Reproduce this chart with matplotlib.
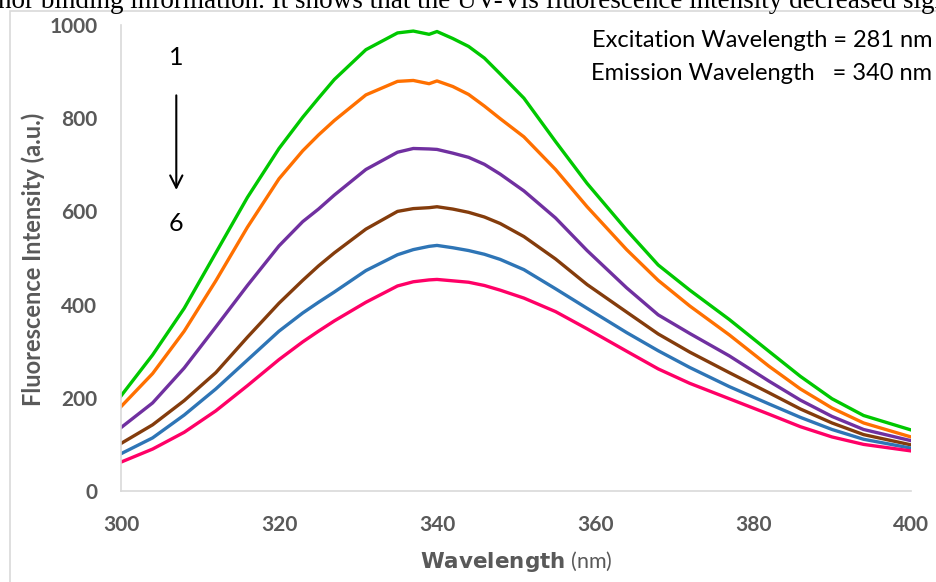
import matplotlib.pyplot as plt
from matplotlib.patches import Rectangle

# wavelengths (nm) and intensities
wavelength = [300, 304, 308, 312, 316, 320, 323, 325, 327, 331, 335, 337, 339, 340,
              342, 344, 346, 348, 351, 355, 359, 364, 368, 372, 377, 382, 386, 390, 394, 400]

curve1 = [204, 292, 392, 511, 630, 735, 802, 843, 883, 947, 983, 987, 980, 986,
          971, 954, 929, 895, 843, 750, 660, 560, 485, 431, 368, 300, 246, 198, 162, 131]
curve2 = [181, 252, 343, 451, 566, 670, 730, 764, 795, 850, 879, 881, 874, 880,
          868, 851, 826, 799, 760, 690, 610, 518, 452, 397, 335, 268, 219, 178, 146, 116]
curve3 = [136, 189, 264, 352, 441, 526, 578, 605, 635, 690, 727, 735, 734, 733,
          725, 716, 701, 680, 644, 586, 516, 436, 378, 338, 290, 236, 195, 160, 132, 108]
curve4 = [102, 142, 194, 254, 330, 403, 452, 483, 511, 562, 600, 606, 608, 610,
          605, 598, 588, 574, 546, 498, 443, 384, 337, 298, 254, 211, 176, 146, 121, 99]
curve5 = [80, 114, 163, 219, 281, 343, 382, 405, 427, 473, 507, 518, 525, 527,
          522, 516, 508, 497, 475, 434, 392, 340, 301, 265, 224, 187, 158, 132, 111, 92]
curve6 = [62, 90, 126, 172, 226, 282, 320, 343, 365, 405, 440, 449, 453, 454,
          451, 448, 441, 431, 414, 385, 348, 300, 262, 231, 198, 165, 138, 116, 100, 86]

curves = [curve1, curve2, curve3, curve4, curve5, curve6]
colors = ['#00C800', '#FF7000', '#7030A0', '#843C0C', '#2E75B6', '#FF0066']

xticks = [300, 320, 340, 360, 380, 400]
yticks = [0, 200, 400, 600, 800, 1000]

plt.rcParams['font.family'] = ['Lato', 'DejaVu Sans']

fig = plt.figure(figsize=(9.37, 5.82), dpi=100)
ax = fig.add_axes([121/937, 1 - 491/582, 790/937, 466/582])

# chart frame and cut paragraph line above it
fig.patches.append(Rectangle((10/937, -0.1), 1.2, 1.1 - 11/582, transform=fig.transFigure,
                             fill=False, edgecolor='#D9D9D9', linewidth=1.2))
fig.text(-0.002, 1 - 8/582, 'nor binding information. It shows that the UV-Vis fluorescence intensity decreased significantly',
         family='Liberation Serif', fontsize=19.5, va='baseline', ha='left', color='black')

for c, col in zip(curves, colors):
    ax.plot(wavelength, c, color=col, linewidth=2.4, solid_joinstyle='round')

ax.set_xlim(300, 400)
ax.set_ylim(0, 1000)
ax.set_xticks(xticks)
ax.set_yticks(yticks)
ax.tick_params(length=0, labelsize=15, labelcolor='#595959')
ax.tick_params(axis='x', pad=17)
ax.tick_params(axis='y', pad=17)
for lab in ax.get_xticklabels() + ax.get_yticklabels():
    lab.set_fontweight('bold')

for s in ['top', 'right']:
    ax.spines[s].set_visible(False)
for s in ['left', 'bottom']:
    ax.spines[s].set_color('#D9D9D9')
    ax.spines[s].set_linewidth(1.2)

fig.text(33/937, 1 - 259/582, 'Fluorescence Intensity (a.u.)', rotation=90, ha='center', va='center',
         fontsize=17, fontweight='bold', color='#595959')
fig.text(516/937, 1 - 561/582, r'$\bf{Wavelength}$ (nm)', ha='center', va='center',
         fontsize=15.5, color='#595959')

ax.text(1.027, 0.967, 'Excitation Wavelength = 281 nm', transform=ax.transAxes, ha='right', va='center',
        fontsize=17, color='black')
ax.text(1.027, 0.895, 'Emission Wavelength   = 340 nm', transform=ax.transAxes, ha='right', va='center',
        fontsize=17, color='black')

ax.text(307, 930, '1', ha='center', va='center', fontsize=18, color='black')
ax.text(307, 575, '6', ha='center', va='center', fontsize=18, color='black')
ax.annotate('', xy=(307, 640), xytext=(307, 855),
            arrowprops=dict(arrowstyle='->', color='black', lw=1.5, mutation_scale=22))

fig.savefig('out.png', dpi=100)
